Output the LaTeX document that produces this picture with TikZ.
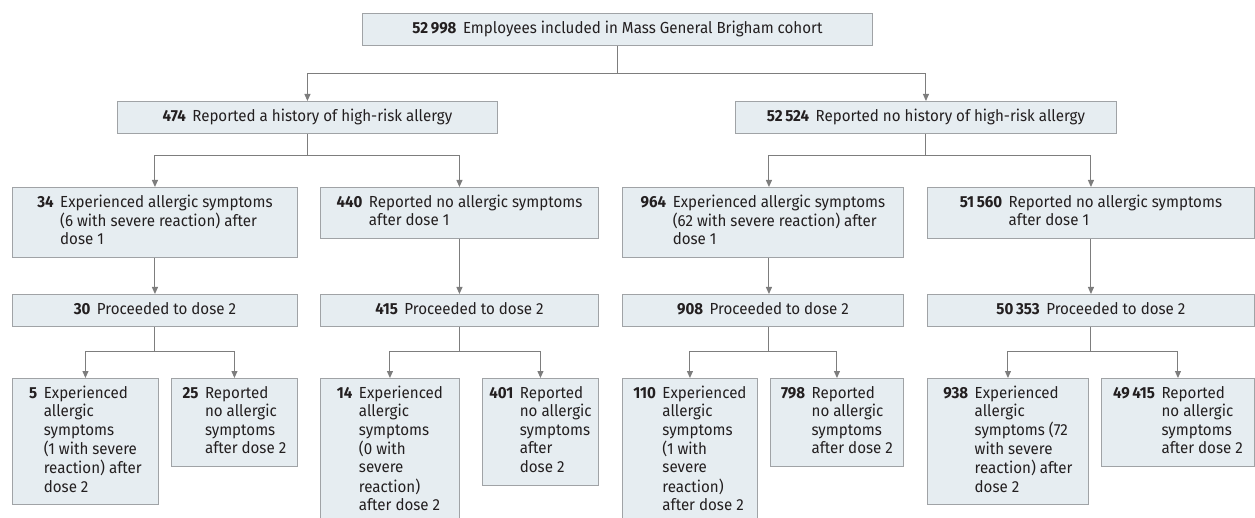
\documentclass[tikz,border=0pt]{standalone}
\usepackage{fontspec}
\setmainfont[FakeStretch=0.945]{Fira Sans}
\usetikzlibrary{arrows.meta}
\definecolor{boxfill}{RGB}{230,237,241}
\definecolor{boxline}{RGB}{160,163,166}
\definecolor{linkgray}{RGB}{125,125,125}
\definecolor{inktext}{RGB}{35,31,32}
\newcommand\tally[2]{\begin{tabular}{@{}l@{\hspace{6.5pt}}l@{}}\textbf{#1}&#2\end{tabular}}
\tikzset{
  flowbox/.style={draw=boxline,fill=boxfill,line width=0.9pt,anchor=north west,
    inner xsep=0pt,inner ysep=7pt,text=inktext,
    font=\fontsize{16}{18.5}\selectfont,minimum width=#1pt},
  link/.style={draw=linkgray,line width=1pt},
  arr/.style={link,-{Triangle[length=7pt,width=6pt]}}
}
\begin{document}
\begin{tikzpicture}[x=1pt,y=-1pt]
  \useasboundingbox (0,0) rectangle (1255,518);
  \clip (0,0) rectangle (1255,518);
  \node[flowbox=510] (cohort) at (362,13) {\tally{52\,998}{Employees included in Mass General Brigham cohort}};
  \node[flowbox=380] (hist) at (117,101) {\tally{474}{Reported a history of high-risk allergy}};
  \node[flowbox=381] (nohist) at (735,101) {\tally{52\,524}{Reported no history of high-risk allergy}};
  \node[flowbox=285] (symA) at (12,187) {\tally{34}{Experienced allergic symptoms\\&(6 with severe reaction) after\\&dose 1}};
  \node[flowbox=278] (nosymA) at (320,187) {\tally{440}{Reported no allergic symptoms\\&after dose 1}};
  \node[flowbox=281] (symB) at (622,187) {\tally{964}{Experienced allergic symptoms\\&(62 with severe reaction) after\\&dose 1}};
  \node[flowbox=327] (nosymB) at (927,187) {\tally{51\,560}{Reported no allergic symptoms\\&after dose 1}};
  \node[flowbox=285] (doseA) at (12,294) {\tally{30}{Proceeded to dose 2}};
  \node[flowbox=278] (doseB) at (320,294) {\tally{415}{Proceeded to dose 2}};
  \node[flowbox=281] (doseC) at (622,294) {\tally{908}{Proceeded to dose 2}};
  \node[flowbox=327] (doseD) at (927,294) {\tally{50\,353}{Proceeded to dose 2}};
  \node[flowbox=146] (reacA) at (12,378) {\tally{5}{Experienced\\&allergic\\&symptoms\\&(1 with severe\\&reaction) after\\&dose 2}};
  \node[flowbox=126] (calmA) at (171,378) {\tally{25}{Reported\\&no allergic\\&symptoms\\&after dose 2}};
  \node[flowbox=139] (reacB) at (320,378) {\tally{14}{Experienced\\&allergic\\&symptoms\\&(0 with\\&severe\\&reaction)\\&after dose 2}};
  \node[flowbox=116] (calmB) at (482,378) {\tally{401}{Reported\\&no allergic\\&symptoms\\&after\\&dose 2}};
  \node[flowbox=135] (reacC) at (622,378) {\tally{110}{Experienced\\&allergic\\&symptoms\\&(1 with\\&severe\\&reaction)\\&after dose 2}};
  \node[flowbox=133] (calmC) at (770,378) {\tally{798}{Reported\\&no allergic\\&symptoms\\&after dose 2}};
  \node[flowbox=161] (reacD) at (927,378) {\tally{938}{Experienced\\&allergic\\&symptoms (72\\&with severe\\&reaction) after\\&dose 2}};
  \node[flowbox=153] (calmD) at (1101,378) {\tally{49\,415}{Reported\\&no allergic\\&symptoms\\&after dose 2}};
  \draw[link] (cohort.south) -- (cohort.south |- 0,74) coordinate (j0);
  \draw[arr] (j0) -| (hist.north);
  \draw[arr] (j0) -| (nohist.north);
  \draw[link] (hist.south) -- (hist.south |- 0,156) coordinate (j1);
  \draw[arr] (j1) -| (symA.north);
  \draw[arr] (j1) -| (nosymA.north);
  \draw[link] (nohist.south) -- (nohist.south |- 0,156) coordinate (j2);
  \draw[arr] (j2) -| ([xshift=6pt]symB.north);
  \draw[arr] (j2) -| (nosymB.north);
  \draw[arr] (symA.south) -- (doseA.north);
  \draw[arr] (nosymA.south) -- (doseB.north);
  \draw[arr] ([xshift=6pt]symB.south) -- ([xshift=6pt]doseC.north);
  \draw[arr] (nosymB.south) -- (doseD.north);
  \draw[link] (doseA.south) -- (doseA.south |- 0,352) coordinate (j3);
  \draw[arr] (j3) -| (reacA.north);
  \draw[arr] (j3) -| (calmA.north);
  \draw[link] (doseB.south) -- (doseB.south |- 0,352) coordinate (j4);
  \draw[arr] (j4) -| (reacB.north);
  \draw[arr] (j4) -| (calmB.north);
  \draw[link] ([xshift=6pt]doseC.south) -- ([xshift=6pt]doseC.south |- 0,352) coordinate (j5);
  \draw[arr] (j5) -| (reacC.north);
  \draw[arr] (j5) -| (calmC.north);
  \draw[link] (doseD.south) -- (doseD.south |- 0,352) coordinate (j6);
  \draw[arr] (j6) -| (reacD.north);
  \draw[arr] (j6) -| (calmD.north);
\end{tikzpicture}
\end{document}
